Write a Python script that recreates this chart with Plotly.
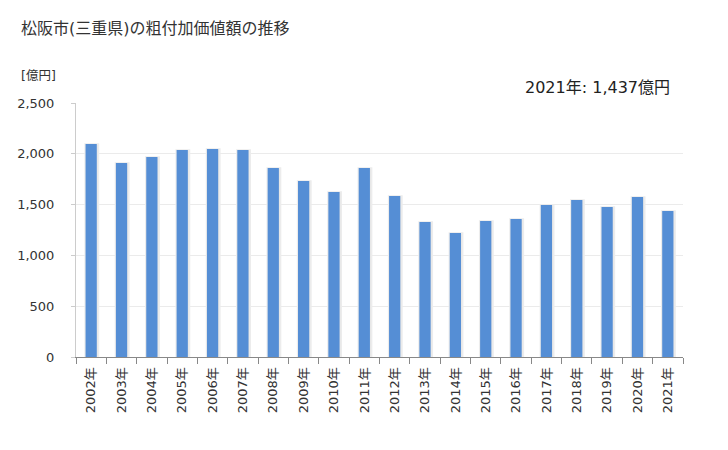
import plotly.graph_objects as go

years = ["2002年", "2003年", "2004年", "2005年", "2006年", "2007年", "2008年", "2009年", "2010年", "2011年",
         "2012年", "2013年", "2014年", "2015年", "2016年", "2017年", "2018年", "2019年", "2020年", "2021年"]
values = [2096, 1909, 1968, 2037, 2047, 2037, 1860, 1732, 1624, 1860,
          1585, 1329, 1220, 1339, 1358, 1496, 1545, 1476, 1575, 1437]
y_ticks = [0, 500, 1000, 1500, 2000, 2500]
y_labels = ["0", "500", "1,000", "1,500", "2,000", "2,500"]

FONT = "DejaVu Sans, Noto Sans CJK JP"
PW, PH = 607, 254

fig = go.Figure()
fig.add_trace(go.Bar(
    x=years, y=values, width=0.44, offset=-0.2,
    marker=dict(color="#e6e6e6", line=dict(color="#ececec", width=1.5)),
    hoverinfo="skip", showlegend=False,
))
fig.add_trace(go.Bar(
    x=years, y=values, width=0.37, offset=-0.185,
    marker=dict(color="#558ed5", line=dict(width=0)),
    showlegend=False,
))

fig.update_layout(
    width=728, height=450,
    margin=dict(l=76, r=45, t=103, b=93),
    paper_bgcolor="white", plot_bgcolor="white",
    barmode="overlay",
    font=dict(family=FONT, color="#333333", size=13),
    annotations=[
        dict(text="松阪市(三重県)の粗付加価値額の推移", xref="paper", yref="paper",
             x=(19 - 76) / PW, y=1 + (103 - 28) / PH, xanchor="left", yanchor="middle",
             showarrow=False, font=dict(size=16, color="#333333", family=FONT)),
        dict(text="[億円]", xref="paper", yref="paper",
             x=(19 - 76) / PW, y=1 + (103 - 75) / PH, xanchor="left", yanchor="middle",
             showarrow=False, font=dict(size=12.5, color="#333333", family=FONT)),
        dict(text="2021年: 1,437億円", xref="paper", yref="paper",
             x=1 - 11 / PW, y=1 + (103 - 87) / PH, xanchor="right", yanchor="middle",
             showarrow=False, font=dict(size=16, color="#222222", family=FONT)),
    ],
)
fig.update_xaxes(
    type="category", tickangle=-90, tickson="boundaries", ticks="outside",
    ticklen=6, tickcolor="#888888", showline=True, linecolor="#888888", linewidth=1,
    showgrid=False, tickfont=dict(size=13, color="#333333"), ticklabelstandoff=4,
)
fig.update_yaxes(
    range=[0, 2500], tickvals=y_ticks, ticktext=y_labels, ticks="outside",
    ticklen=4, tickcolor="#cccccc", showline=True, linecolor="#cccccc", linewidth=1,
    showgrid=True, gridcolor="#ebebeb", gridwidth=1, zeroline=False,
    tickfont=dict(size=13, color="#333333"), ticklabelstandoff=14,
)

fig.write_html("out.html")
